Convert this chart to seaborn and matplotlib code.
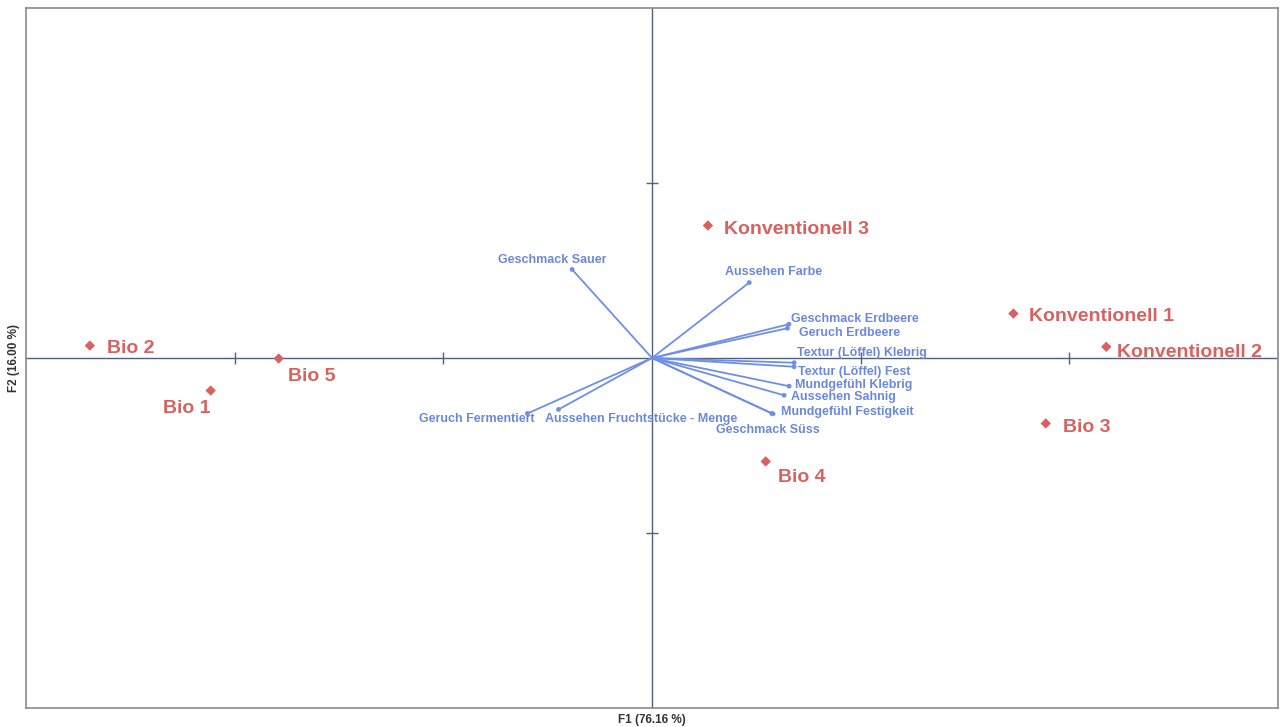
import matplotlib
matplotlib.use("Agg")
import matplotlib.pyplot as plt
import seaborn as sns
import pandas as pd

# ---- data ----
sample_names = ["Bio 1", "Bio 2", "Bio 3", "Bio 4", "Bio 5",
                "Konventionell 1", "Konventionell 2", "Konventionell 3"]
sample_f1 = [-2.115, -2.694, 1.887, 0.545, -1.789, 1.732, 2.177, 0.268]
sample_f2 = [-0.186, 0.071, -0.374, -0.591, -0.003, 0.254, 0.064, 0.757]

var_names = ["Geschmack Sauer", "Aussehen Farbe", "Geschmack Erdbeere",
             "Geruch Erdbeere", "Textur (Löffel) Klebrig", "Textur (Löffel) Fest",
             "Mundgefühl Klebrig", "Aussehen Sahnig", "Mundgefühl Festigkeit",
             "Geschmack Süss", "Geruch Fermentiert",
             "Aussehen Fruchtstücke - Menge"]
var_f1 = [-0.383, 0.466, 0.656, 0.649, 0.681, 0.681, 0.657, 0.633, 0.580,
          0.574, -0.597, -0.448]
var_f2 = [0.506, 0.431, 0.193, 0.170, -0.027, -0.050, -0.161, -0.213, -0.319,
          -0.317, -0.317, -0.294]

x_ticks = [-2, -1, 1, 2]
y_ticks = [-1, 1]
x_label = "F1 (76.16 %)"
y_label = "F2 (16.00 %)"

# ---- label placement (pixel offsets, alignment) ----
sample_offsets = {
    "Bio 1": (-24, -18, "center"), "Bio 2": (17, -3, "left"),
    "Bio 3": (17, -4, "left"), "Bio 4": (12, -16, "left"),
    "Bio 5": (9, -18, "left"), "Konventionell 1": (16, -3, "left"),
    "Konventionell 2": (11, -6, "left"), "Konventionell 3": (16, -4, "left"),
}
var_offsets = {
    "Geschmack Sauer": (-20, 9, "center"), "Aussehen Farbe": (24, 11, "center"),
    "Geschmack Erdbeere": (2, 5, "left"), "Geruch Erdbeere": (12, -5, "left"),
    "Textur (Löffel) Klebrig": (3, 10, "left"), "Textur (Löffel) Fest": (4, -5, "left"),
    "Mundgefühl Klebrig": (6, 1, "left"), "Aussehen Sahnig": (7, -2, "left"),
    "Mundgefühl Festigkeit": (8, 2, "left"), "Geschmack Süss": (-4, -17, "center"),
    "Geruch Fermentiert": (7, -6, "right"),
    "Aussehen Fruchtstücke - Menge": (-14, -10, "left"),
}

RED = "#D8625F"
BLUE = "#6F8FE6"
BLUE_TXT = "#6C88DC"
AXIS = "#50607A"

sns.set_style("white")
plt.rcParams["font.family"] = ["Liberation Sans", "DejaVu Sans"]

fig = plt.figure(figsize=(12.82, 7.27), dpi=100)
ax = fig.add_axes([26 / 1282, 19 / 727, 1252 / 1282, 700 / 727])
ax.set_xlim(-3, 3)
ax.set_ylim(-2, 2)

# central axes
ax.axhline(0, color=AXIS, lw=1.0, zorder=1)
ax.axvline(0, color=AXIS, lw=1.0, zorder=1)
ax.plot(x_ticks, [0] * len(x_ticks), ls="none", marker="|", ms=9,
        mew=1.0, color=AXIS, zorder=1)
ax.plot([0] * len(y_ticks), y_ticks, ls="none", marker="_", ms=9,
        mew=1.0, color=AXIS, zorder=1)

# variable vectors
vdf = pd.DataFrame({"F1": var_f1, "F2": var_f2, "name": var_names})
for _, r in vdf.iterrows():
    ax.plot([0, r.F1], [0, r.F2], color=BLUE, lw=1.3, zorder=2)
sns.scatterplot(data=vdf, x="F1", y="F2", ax=ax, color=BLUE, s=12,
                edgecolor="none", zorder=3, legend=False)
for _, r in vdf.iterrows():
    dx, dy, ha = var_offsets[r["name"]]
    ax.annotate(r["name"], (r.F1, r.F2), xytext=(dx, dy),
                textcoords="offset pixels", ha=ha, va="center",
                fontsize=9, fontweight="bold", color=BLUE_TXT, zorder=4)

# samples
sdf = pd.DataFrame({"F1": sample_f1, "F2": sample_f2, "name": sample_names})
sns.scatterplot(data=sdf, x="F1", y="F2", ax=ax, color=RED, marker="D",
                s=28, edgecolor="none", zorder=5, legend=False)
for _, r in sdf.iterrows():
    dx, dy, ha = sample_offsets[r["name"]]
    ax.annotate(r["name"], (r.F1, r.F2), xytext=(dx, dy),
                textcoords="offset pixels", ha=ha, va="center",
                fontsize=14, fontweight="bold", color=RED, zorder=6)

ax.set_xticks([])
ax.set_yticks([])
ax.set_xlabel(x_label, fontsize=8.5, fontweight="bold", color="#333333",
              labelpad=4, family=["Liberation Sans Narrow", "Liberation Sans"])
ax.set_ylabel(y_label, fontsize=8.5, fontweight="bold", color="#333333",
              labelpad=4, family=["Liberation Sans Narrow", "Liberation Sans"])
for s in ax.spines.values():
    s.set_color("#8A8A8A")
    s.set_linewidth(1.2)

fig.savefig("out.png", dpi=100)
